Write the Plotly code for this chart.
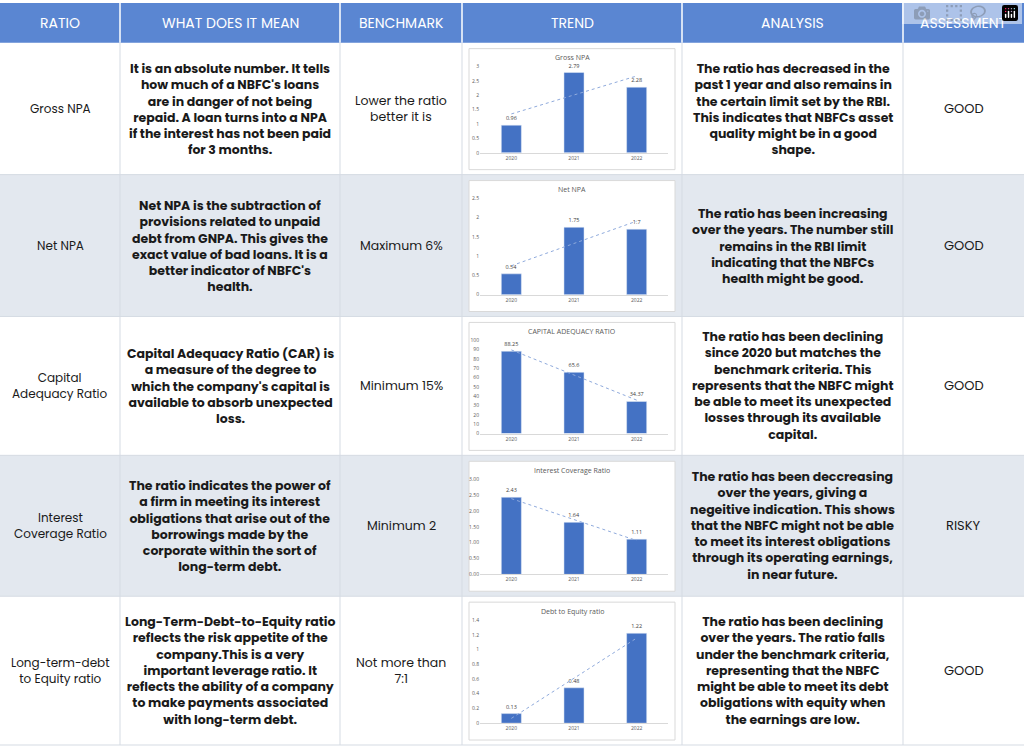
import plotly.graph_objects as go

W, H = 1024, 748

headers = ["RATIO", "WHAT DOES IT MEAN", "BENCHMARK", "TREND", "ANALYSIS", "ASSESSMENT"]
ratios = ["Gross NPA", "Net NPA", "Capital<br>Adequacy Ratio", "Interest<br>Coverage Ratio",
          "Long-term-debt<br>to Equity ratio"]
meanings = [
    "It is an absolute number. It tells<br>how much of a NBFC's loans<br>are in danger of not being<br>repaid. A loan turns into a NPA<br>if the interest has not been paid<br>for 3 months.",
    "Net NPA is the subtraction of<br>provisions related to unpaid<br>debt from GNPA. This gives the<br>exact value of bad loans. It is a<br>better indicator of NBFC's<br>health.",
    "Capital Adequacy Ratio (CAR) is<br>a measure of the degree to<br>which the company's capital is<br>available to absorb unexpected<br>loss.",
    "The ratio indicates the power of<br>a firm in meeting its interest<br>obligations that arise out of the<br>borrowings made by the<br>corporate within the sort of<br>long-term debt.",
    "Long-Term-Debt-to-Equity ratio<br>reflects the risk appetite of the<br>company.This is a very<br>important leverage ratio. It<br>reflects the ability of a company<br>to make payments associated<br>with long-term debt.",
]
benchmarks = ["Lower the ratio<br>better it is", "Maximum 6%", "Minimum 15%", "Minimum 2", "Not more than<br>7:1"]
analyses = [
    "The ratio has decreased in the<br>past 1 year and also remains in<br>the certain limit set by the RBI.<br>This indicates that NBFCs asset<br>quality might be in a good<br>shape.",
    "The ratio has been increasing<br>over the years. The number still<br>remains in the RBI limit<br>indicating that the NBFCs<br>health might be good.",
    "The ratio has been declining<br>since 2020 but matches the<br>benchmark criteria. This<br>represents that the NBFC might<br>be able to meet its unexpected<br>losses through its available<br>capital.",
    "The ratio has been deccreasing<br>over the years, giving a<br>negeitive indication. This shows<br>that the NBFC might not be able<br>to meet its interest obligations<br>through its operating earnings,<br>in near future.",
    "The ratio has been declining<br>over the years. The ratio falls<br>under the benchmark criteria,<br>representing that the NBFC<br>might be able to meet its debt<br>obligations with equity when<br>the earnings are low.",
]
assessments = ["GOOD", "GOOD", "GOOD", "RISKY", "GOOD"]

years = ["2020", "2021", "2022"]
chart_titles = ["Gross NPA", "Net NPA", "CAPITAL ADEQUACY RATIO", "Interest Coverage Ratio", "Debt to Equity ratio"]
gross_npa = [0.96, 2.79, 2.28]
net_npa = [0.54, 1.75, 1.7]
car = [88.25, 65.6, 34.37]
icr = [2.43, 1.64, 1.11]
debt_equity = [0.13, 0.48, 1.22]
series = [gross_npa, net_npa, car, icr, debt_equity]
y_ranges = [[0, 3], [0, 2.5], [0, 100], [0, 3], [0, 1.4]]
y_dticks = [0.5, 0.5, 10, 0.5, 0.2]
y_formats = ["", "", "", ".2f", ""]

col_edges = [0, 120, 340, 462, 682, 903, 1024]
row_edges = [0, 40, 173, 316, 456, 598, 748]
header_bg = "#5a86d2"
alt_bg = "#e3e8ef"
text_col = "#1a1a1a"
FONT = "Poppins, Roboto, sans-serif"

fx = lambda px: px / W
fy = lambda py: 1 - py / H


def label(x, y, text, **font):
    return dict(x=fx(x), y=fy(y), xref="paper", yref="paper", text=text, showarrow=False,
                xanchor="center", yanchor="middle", align="center", font=font)


fig = go.Figure()
shapes, annotations = [], []

# header
shapes.append(dict(type="rect", xref="paper", yref="paper", x0=0, x1=1, y0=fy(40), y1=1,
                   fillcolor=header_bg, line_width=0, layer="below"))
for i, h in enumerate(headers):
    cx = (col_edges[i] + col_edges[i + 1]) / 2
    annotations.append(label(cx, 20, h, color="white", size=14, family=FONT))
for e in col_edges[1:-1]:
    shapes.append(dict(type="line", xref="paper", yref="paper", x0=fx(e), x1=fx(e), y0=fy(0), y1=fy(40),
                       line=dict(color="white", width=1.5)))

# rows
for r in range(5):
    top, bot = row_edges[r + 1], row_edges[r + 2]
    cy = (top + bot) / 2
    if r % 2 == 1:
        shapes.append(dict(type="rect", xref="paper", yref="paper", x0=0, x1=1, y0=fy(bot), y1=fy(top),
                           fillcolor=alt_bg, line_width=0, layer="below"))
    shapes.append(dict(type="line", xref="paper", yref="paper", x0=0, x1=1, y0=fy(bot), y1=fy(bot),
                       line=dict(color="#d5dbe3", width=1)))
    for e in col_edges[1:-1]:
        shapes.append(dict(type="line", xref="paper", yref="paper", x0=fx(e), x1=fx(e), y0=fy(bot), y1=fy(top),
                           line=dict(color="#d5dbe3", width=1)))
    cells = [(ratios[r], 12, "normal"), (meanings[r], 12.5, "bold"), (benchmarks[r], 12.5, "normal"),
             None, (analyses[r], 12.5, "bold"), (assessments[r], 13, "normal")]
    for c, cell in enumerate(cells):
        if cell is None:
            continue
        cx = (col_edges[c] + col_edges[c + 1]) / 2
        annotations.append(label(cx, cy, cell[0], color=text_col, size=cell[1], family=FONT, weight=cell[2]))

    # mini chart box
    shapes.append(dict(type="rect", xref="paper", yref="paper", x0=fx(469), x1=fx(675),
                       y0=fy(bot - 5), y1=fy(top + 6), fillcolor="white",
                       line=dict(color="#d9d9d9", width=1), layer="below"))
    annotations.append(label(572, top + 15, chart_titles[r], color="#595959", size=7, family="Open Sans"))

    n = r + 1
    xa, ya = ("x" if n == 1 else f"x{n}"), ("y" if n == 1 else f"y{n}")
    vals = series[r]
    fig.add_trace(go.Bar(x=years, y=vals, xaxis=xa, yaxis=ya, marker_color="#4472c4", width=0.32,
                         text=[str(v) for v in vals], textposition="outside", cliponaxis=False,
                         textfont=dict(size=5.5, color="#404040"), showlegend=False))
    # linear trendline computed from the values
    xs = [0, 1, 2]
    mx, my = sum(xs) / 3, sum(vals) / 3
    slope = sum((a - mx) * (b - my) for a, b in zip(xs, vals)) / sum((a - mx) ** 2 for a in xs)
    trend = [my + slope * (a - mx) for a in xs]
    fig.add_trace(go.Scatter(x=years, y=trend, xaxis=xa, yaxis=ya, mode="lines",
                             line=dict(color="#8faadc", width=1, dash="dot"), showlegend=False,
                             hoverinfo="skip"))
    axis_common = dict(tickfont=dict(size=5, color="#595959"), fixedrange=True)
    fig.update_layout(**{
        ("xaxis" if n == 1 else f"xaxis{n}"): dict(domain=[fx(480), fx(668)], anchor=ya,
                                                    showline=True, linecolor="#d9d9d9", **axis_common),
        ("yaxis" if n == 1 else f"yaxis{n}"): dict(domain=[fy(bot - 22), fy(top + 24)], anchor=xa,
                                                    range=y_ranges[r], dtick=y_dticks[r],
                                                    tickformat=y_formats[r], showgrid=False,
                                                    zeroline=False, **axis_common),
    })

fig.update_layout(width=W, height=H, margin=dict(l=0, r=0, t=0, b=0), paper_bgcolor="white",
                  plot_bgcolor="rgba(0,0,0,0)", shapes=shapes, annotations=annotations,
                  bargap=0.6)
fig.write_html("out.html", post_script="document.body.style.margin='0';document.body.style.overflow='hidden';")
